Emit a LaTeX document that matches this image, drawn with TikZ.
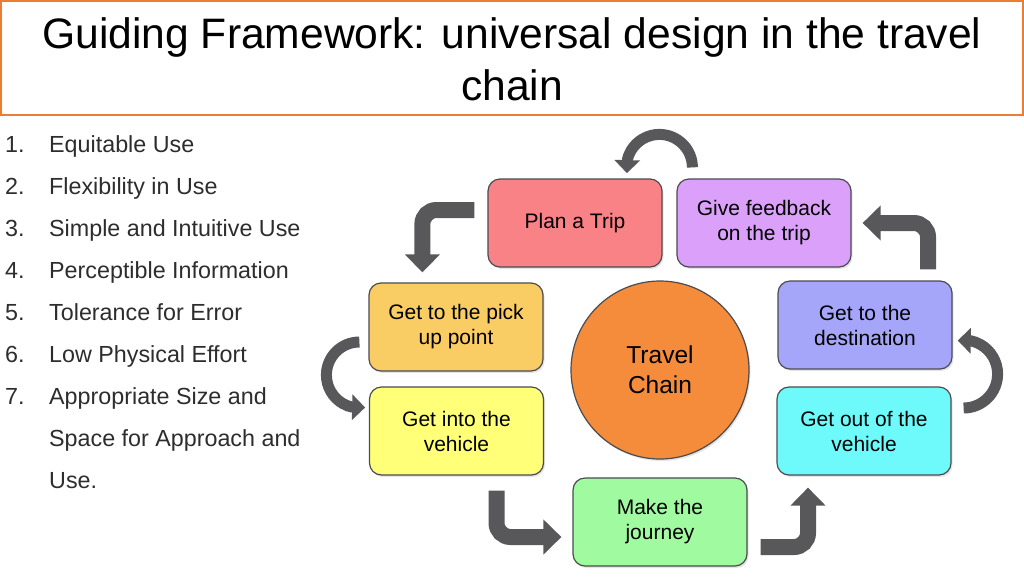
\documentclass[tikz,border=0pt]{standalone}
\usepackage{fontspec}
\setmainfont{Liberation Sans}
\usetikzlibrary{arrows.meta,calc,shadows,bending}
\definecolor{titleorange}{RGB}{237,125,49}
\definecolor{boxborder}{RGB}{75,75,80}
\definecolor{arrowgrey}{RGB}{88,88,90}
\definecolor{listgrey}{RGB}{45,45,45}
\definecolor{cplan}{RGB}{249,130,135}
\definecolor{cfeed}{RGB}{218,160,250}
\definecolor{cpick}{RGB}{250,205,100}
\definecolor{cinto}{RGB}{255,255,120}
\definecolor{cjourney}{RGB}{160,250,160}
\definecolor{cout}{RGB}{110,250,250}
\definecolor{cdest}{RGB}{165,165,250}
\definecolor{ccircle}{RGB}{245,140,60}
\tikzset{
  softshadow/.style={drop shadow={opacity=0.2, shadow xshift=1.5pt, shadow yshift=-2pt}},
  stagebox/.style={draw=boxborder, line width=1.2pt, rounded corners=12pt,
    minimum width=174pt, minimum height=88pt, align=center, inner sep=2pt,
    font=\fontsize{21}{25}\selectfont, text=black, softshadow},
  listtext/.style={anchor=base west, inner sep=0pt, text=listgrey,
    font=\fontsize{23.3}{28}\selectfont},
  bentarrow/.style={draw=arrowgrey, line width=16pt, rounded corners=14pt,
    -{Triangle[length=18pt,width=34pt]}},
  curvedarrow/.style={draw=arrowgrey, line width=11pt,
    -{Triangle[length=13pt,width=25pt]}},
  titletext/.style={anchor=base, inner sep=0pt, font=\fontsize{42.6}{50}\selectfont}
}
\begin{document}
\begin{tikzpicture}[x=1pt,y=-1pt]
\useasboundingbox (0,0) rectangle (1024,576);
\fill[white] (0,0) rectangle (1024,576);
% title
\draw[titleorange, line width=1.5pt] (1,1) rectangle (1023,115);
\node[titletext] (t1) at (512,48) {Guiding Framework: universal design in the travel};
\node[titletext] (t2) at (512,100) {chain};
% list
\node[listtext] (n1) at (5,152) {1.};
\node[listtext] (l1) at (49,152) {Equitable Use};
\node[listtext] (n2) at (5,194) {2.};
\node[listtext] (l2) at (49,194) {Flexibility in Use};
\node[listtext] (n3) at (5,236) {3.};
\node[listtext] (l3) at (49,236) {Simple and Intuitive Use};
\node[listtext] (n4) at (5,278) {4.};
\node[listtext] (l4) at (49,278) {Perceptible Information};
\node[listtext] (n5) at (5,320) {5.};
\node[listtext] (l5) at (49,320) {Tolerance for Error};
\node[listtext] (n6) at (5,362) {6.};
\node[listtext] (l6) at (49,362) {Low Physical Effort};
\node[listtext] (n7) at (5,404) {7.};
\node[listtext] (l7) at (49,404) {Appropriate Size and};
\node[listtext] (l8) at (49,446) {Space for Approach and};
\node[listtext] (l9) at (49,488) {Use.};
% stages
\node[stagebox, fill=cplan] (plan) at (575,223) {Plan a Trip};
\node[stagebox, fill=cfeed] (feed) at (764,223) {Give feedback\\on the trip};
\node[stagebox, fill=cpick] (pick) at (456,327) {Get to the pick\\up point};
\node[stagebox, fill=cinto] (into) at (456.5,431) {Get into the\\vehicle};
\node[stagebox, fill=cjourney] (journey) at (660,522) {Make the\\journey};
\node[stagebox, fill=cout] (out) at (864,431) {Get out of the\\vehicle};
\node[stagebox, fill=cdest] (dest) at (865,325) {Get to the\\destination};
\node[circle, draw=boxborder, line width=1.2pt, fill=ccircle, minimum size=178pt,
  align=center, font=\fontsize{24.5}{30}\selectfont, softshadow] (tc) at (660,370) {Travel\\Chain};
% arrows
\draw[curvedarrow] ($(feed.north west)+(16,-11)$) arc[start angle=0, end angle=-190, radius=33];
\draw[bentarrow] ($(plan.west)+(-13,-13)$) -| ($(pick.north west)+(54,-10)$);
\draw[curvedarrow] ($(pick.west)+(-9,15)$) arc[start angle=-90, end angle=-280, radius=33];
\draw[curvedarrow] ($(out.east)+(12,-23)$) arc[start angle=90, end angle=-100, radius=34];
\draw[bentarrow] ($(into.south)+(40,15)$) |- ($(journey.west)+(-11,15)$);
\draw[bentarrow] ($(journey.east)+(13,25)$) -| ($(out.south)+(-56,12)$);
\draw[bentarrow] ($(dest.north)+(63,-11)$) |- ($(feed.east)+(11,0)$);
\end{tikzpicture}
\end{document}
